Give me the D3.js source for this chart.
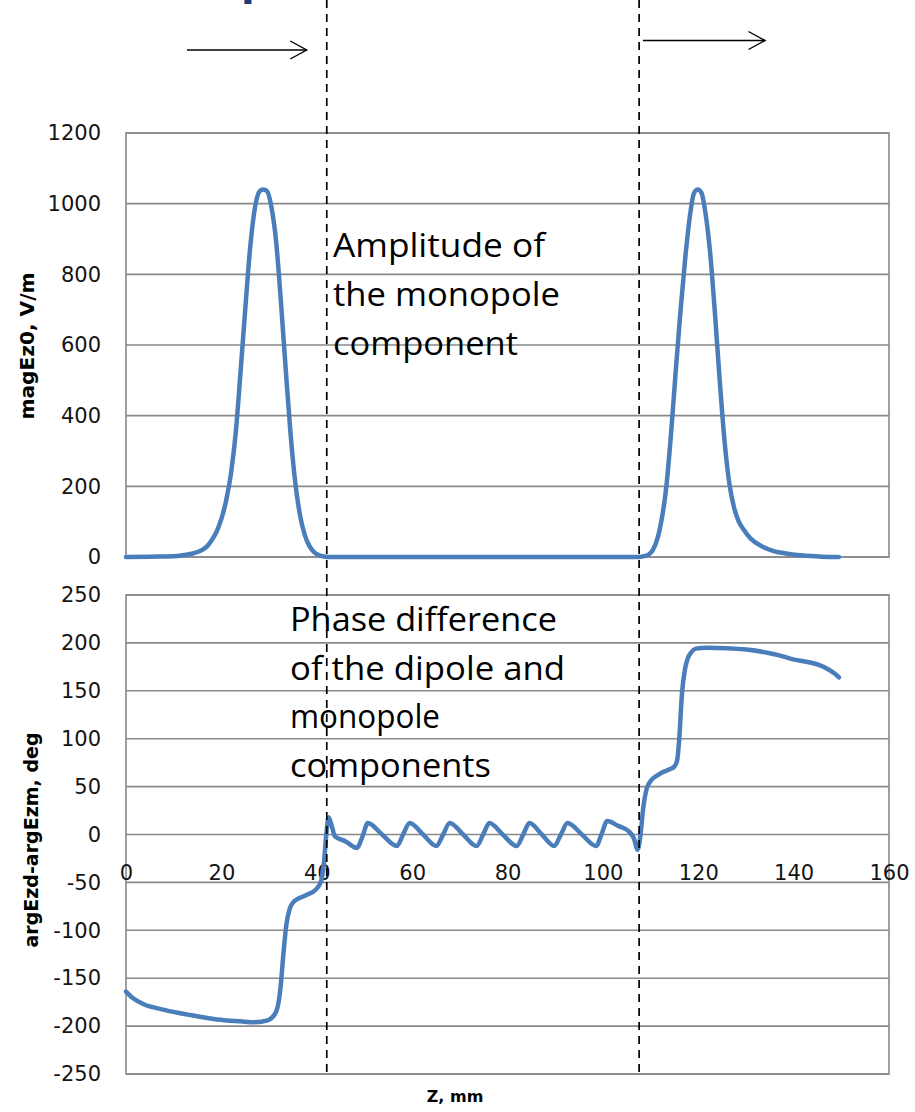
<!DOCTYPE html>
<html>
<head>
<meta charset="utf-8">
<script src="https://cdn.jsdelivr.net/npm/d3@7"></script>
<style>
  html, body { margin: 0; padding: 0; background: #ffffff; }
  svg { display: block; }
</style>
</head>
<body>
<svg id="chart" width="915" height="1112"></svg>
<script>
// Axis ticks
const zTicks = [0, 20, 40, 60, 80, 100, 120, 140, 160];
const magTicks = [0, 200, 400, 600, 800, 1000, 1200];
const phaseTicks = [-250, -200, -150, -100, -50, 0, 50, 100, 150, 200, 250];

// Amplitude of the monopole component, magEz0 (V/m) along Z (mm)
const magZ = [0, 5, 10, 12, 14, 16, 17, 18, 19, 20, 21, 22, 23, 24, 25, 26, 27, 28, 28.8,
  29.6, 30.5, 31.5, 32.5, 33.5, 34.5, 35.5, 36.5, 37.5, 38.5, 39.5, 40.5, 41.5, 43,
  50, 60, 70, 80, 90, 100, 107.6, 108.5, 109.5, 110.5, 111.5, 112.5, 113.3, 114.3, 115.3, 116.3,
  117.3, 118.3, 119.1, 119.9, 120.7, 121.5, 122.5, 123.5, 124.5, 125.5, 126.5, 127.5, 128.5,
  129.5, 131, 133.5, 136, 138.4, 142, 146, 149.5];
const magVal = [0, 1, 2, 5, 10, 20, 30, 48, 72, 108, 160, 235, 350, 520, 700, 870, 985, 1035, 1040,
  1035, 990, 890, 720, 530, 350, 210, 118, 62, 30, 13, 5, 1.5, 0,
  0, 0, 0, 0, 0, 0, 0, 2, 6, 20, 55, 120, 198, 350, 530, 700,
  850, 970, 1030, 1040, 1030, 975, 860, 690, 500, 330, 210, 140, 100,
  78, 52, 29, 16, 10, 4, 1, 0];

// Phase difference of the dipole and monopole components, argEzd-argEzm (deg)
const phaseZ = [0, 1.5, 3.6, 8, 13, 19.1, 24, 27, 29.7, 31.0, 31.8, 32.4, 33.0, 33.6, 34.3, 35.2, 37.5, 39.9,
  40.9, 41.5, 42.0, 42.5, 43.2, 43.8, 46, 48.4, 49.6, 50.7, 53.7, 56.8, 58.1, 59.5, 62.3, 65.1, 66.5, 67.9,
  70.7, 73.5, 74.9, 76.2, 79, 81.9, 83.3, 84.6, 87.2, 89.8, 91.2, 92.6, 95.6, 98.6, 99.7, 100.9, 103.2,
  105.5, 106.5, 107.3, 107.9, 108.4, 109.2, 110.2, 111.5, 112.5, 114, 115.0, 115.6, 116.0, 116.6, 117.2,
  117.8, 118.5, 119.5, 121.7, 126, 130.1, 134.2, 137, 139.7, 143, 145.3, 147.4, 148.6, 149.5];
const phaseVal = [-164, -171, -177, -183, -188, -193, -195, -196, -194, -189, -180, -160, -125, -95, -78, -70, -64, -57,
  -49, -30, 0, 18, 8, -2, -7, -14, -2, 12, 0, -12, 0, 12, 0, -12, 0, 12,
  0, -12, 0, 12, 0, -12, 0, 12, 0, -12, 0, 12, 0, -12, 0, 14, 9,
  3, -4, -16, 0, 25, 48, 57, 62, 65, 68, 71, 78, 99, 148, 172,
  184, 190, 194, 195, 194.5, 193, 190, 187, 183, 180, 177, 172, 168, 164];

// Section boundaries (mm) marked by the dashed verticals
const boundaryZ = [42.1, 107.6];

const svg = d3.select("#chart");
const left = 126, right = 889;
const x = d3.scaleLinear().domain([0, 160]).range([left, right]);
const yMag = d3.scaleLinear().domain([0, 1200]).range([557, 133]);
const yPh = d3.scaleLinear().domain([-250, 250]).range([1074, 595]);

const gridColor = "#898989";
const tickFont = "'DejaVu Sans', Verdana, sans-serif";
const lineColor = "#4a7ebb";
const tickFormat = d => String(d);   // plain hyphen-minus for negatives

function panel(yScale, ticks, title, titleX, titleY, titleLen) {
  const g = svg.append("g");
  // horizontal gridlines
  g.selectAll("line.grid").data(ticks).join("line")
    .attr("class", "grid")
    .attr("x1", left).attr("x2", right)
    .attr("y1", d => yScale(d)).attr("y2", d => yScale(d))
    .attr("stroke", gridColor).attr("stroke-width", 1.6);
  // plot frame
  const [y0, y1] = yScale.range();
  g.append("rect")
    .attr("x", left).attr("y", y1)
    .attr("width", right - left).attr("height", y0 - y1)
    .attr("fill", "none").attr("stroke", gridColor).attr("stroke-width", 1.6);
  // value axis labels
  const ax = g.append("g").attr("transform", `translate(${left},0)`)
    .call(d3.axisLeft(yScale).tickValues(ticks).tickSize(0).tickPadding(25).tickFormat(tickFormat));
  ax.select(".domain").remove();
  ax.selectAll("text").attr("font-family", tickFont).attr("font-size", 21).attr("fill", "#141414");
  // value axis title
  g.append("text")
    .attr("transform", `translate(${titleX},${titleY}) rotate(-90)`)
    .attr("text-anchor", "middle")
    .attr("font-family", tickFont).attr("font-weight", "bold").attr("font-size", 19.5)
    .attr("textLength", titleLen).attr("lengthAdjust", "spacingAndGlyphs")
    .attr("fill", "#000")
    .text(title);
  return g;
}

const magPanel = panel(yMag, magTicks, "magEz0, V/m", 34, 346, 147);
const phasePanel = panel(yPh, phaseTicks, "argEzd-argEzm, deg", 38, 840, 215);

// Z axis labels sit on the zero line of the phase panel
const xa = svg.append("g").attr("transform", `translate(0,${yPh(0)})`)
  .call(d3.axisBottom(x).tickValues(zTicks).tickSize(0).tickPadding(31).tickFormat(tickFormat));
xa.select(".domain").remove();
xa.selectAll("text").attr("font-family", tickFont).attr("font-size", 21).attr("fill", "#141414");

svg.append("text")
  .attr("x", 455).attr("y", 1102)
  .attr("text-anchor", "middle")
  .attr("font-family", tickFont).attr("font-weight", "bold").attr("font-size", 16)
  .attr("fill", "#000")
  .text("Z, mm");

// curves
const magLine = d3.line().x(d => x(d[0])).y(d => yMag(d[1])).curve(d3.curveMonotoneX);
const phLine = d3.line().x(d => x(d[0])).y(d => yPh(d[1])).curve(d3.curveMonotoneX);

svg.append("path")
  .datum(d3.zip(magZ, magVal))
  .attr("d", magLine)
  .attr("fill", "none").attr("stroke", lineColor).attr("stroke-width", 4.5)
  .attr("stroke-linejoin", "round").attr("stroke-linecap", "round");

svg.append("path")
  .datum(d3.zip(phaseZ, phaseVal))
  .attr("d", phLine)
  .attr("fill", "none").attr("stroke", lineColor).attr("stroke-width", 4.5)
  .attr("stroke-linejoin", "round").attr("stroke-linecap", "round");

// dashed section boundaries
svg.selectAll("line.boundary").data(boundaryZ).join("line")
  .attr("class", "boundary")
  .attr("x1", d => x(d)).attr("x2", d => x(d))
  .attr("y1", 0).attr("y2", 1076)
  .attr("stroke", "#000").attr("stroke-width", 1.7)
  .attr("stroke-dasharray", "8,6");

// direction arrows above the panels
const arrows = [
  { from: 12.8, to: 37.9, y: 50 },
  { from: 108.4, to: 134.0, y: 40.5 }
];
const ag = svg.append("g").attr("stroke", "#000").attr("stroke-width", 1.4).attr("fill", "none");
arrows.forEach(a => {
  const x1 = x(a.from), x2 = x(a.to);
  ag.append("line").attr("x1", x1).attr("x2", x2).attr("y1", a.y).attr("y2", a.y);
  ag.append("polyline")
    .attr("points", `${x2 - 16.5},${a.y - 9} ${x2},${a.y} ${x2 - 16.5},${a.y + 9}`);
});

// annotation text blocks
const noteFont = "'Open Sans', 'Noto Sans', sans-serif";
function note(lines, x0, y0, step, widths) {
  const t = svg.append("g");
  lines.forEach((s, i) => {
    t.append("text")
      .attr("x", x0).attr("y", y0 + i * step)
      .attr("font-family", noteFont).attr("font-size", 32)
      .attr("textLength", widths[i]).attr("lengthAdjust", "spacingAndGlyphs")
      .attr("fill", "#000")
      .text(s);
  });
}
note(["Amplitude of", "the monopole", "component"], 333, 257, 49, [212, 227, 185]);
note(["Phase difference", "of the dipole and", "monopole", "components"], 290, 631, 48.5, [267, 275, 150, 201]);

// tail of the slide heading, clipped at the top edge
svg.append("text")
  .attr("x", 241).attr("y", -5)
  .attr("font-family", tickFont).attr("font-weight", "bold").attr("font-size", 40)
  .attr("fill", "#1f3b7a")
  .text("p");
</script>
</body>
</html>
